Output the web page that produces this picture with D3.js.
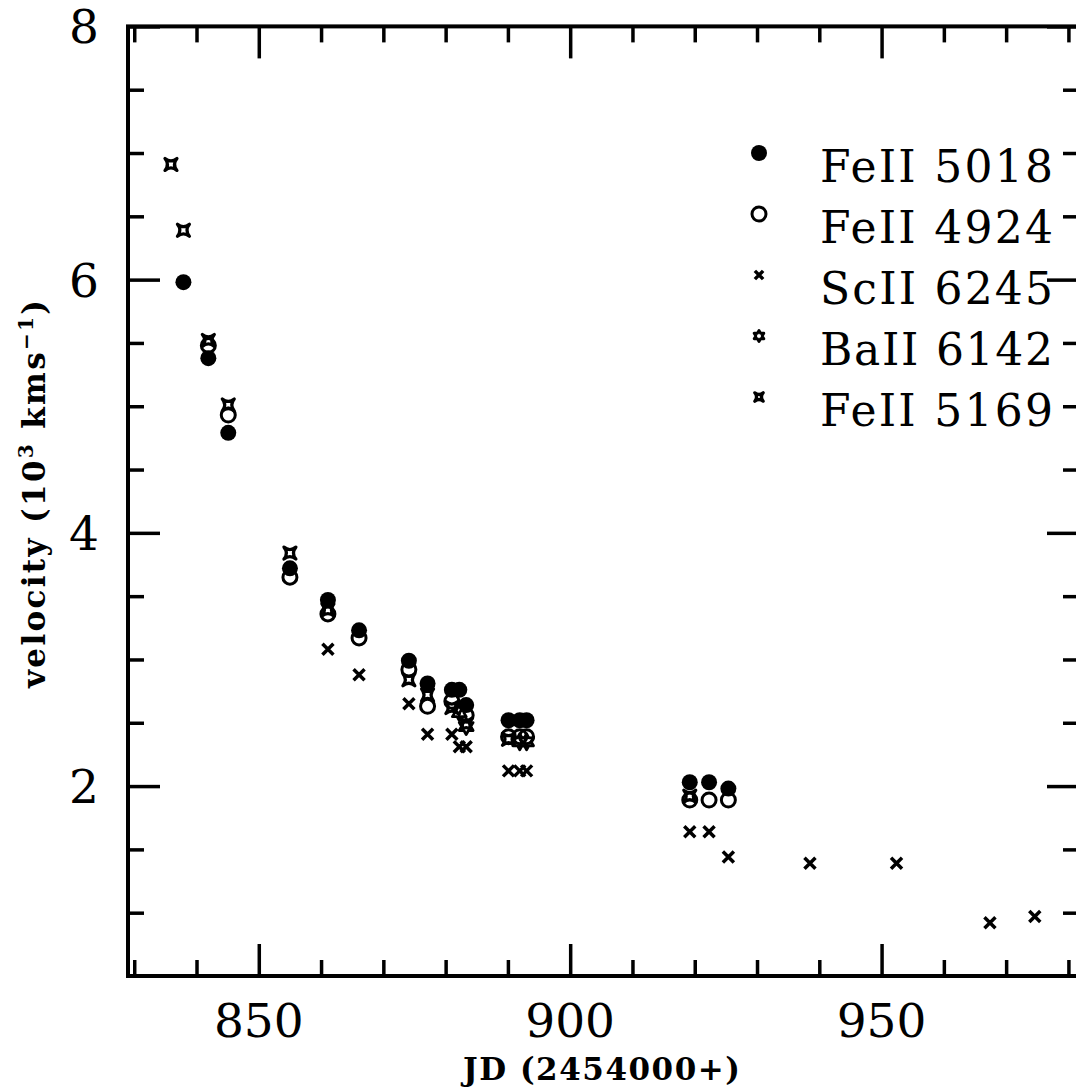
<!DOCTYPE html>
<html>
<head>
<meta charset="utf-8">
<script src="https://cdn.jsdelivr.net/npm/d3@7"></script>
<style>
  html, body { margin: 0; padding: 0; background: #fff; }
  svg { display: block; }
</style>
</head>
<body>
<svg id="chart" width="1076" height="1088"></svg>
<script>
// Line velocities (10^3 km/s) against JD - 2454000
const feII5018 = [
  [837.9, 5.98], [841.9, 5.38], [845.1, 4.79], [855.0, 3.72], [861.1, 3.47],
  [866.1, 3.23], [874.1, 2.99], [877.1, 2.81], [881.0, 2.76], [882.2, 2.76],
  [883.3, 2.64], [890.1, 2.52], [891.9, 2.52], [893.0, 2.52],
  [919.2, 2.03], [922.3, 2.03], [925.4, 1.98]
];
const feII4924 = [
  [841.9, 5.48], [845.1, 4.93], [855.0, 3.65], [861.1, 3.36], [866.1, 3.17],
  [874.1, 2.92], [877.1, 2.63], [881.0, 2.67], [883.3, 2.56],
  [890.1, 2.39], [891.9, 2.39], [893.0, 2.39],
  [919.2, 1.89], [922.3, 1.89], [925.4, 1.89]
];
const scII6245 = [
  [861.1, 3.08], [866.1, 2.88], [874.1, 2.65], [877.1, 2.41], [881.0, 2.41],
  [882.2, 2.31], [883.3, 2.31], [890.1, 2.12], [891.9, 2.12], [893.0, 2.12],
  [919.2, 1.64], [922.3, 1.64], [925.4, 1.44], [938.5, 1.39], [952.4, 1.39],
  [967.4, 0.92], [974.6, 0.97]
];
const baII6142 = [
  [882.2, 2.58], [883.3, 2.47], [891.9, 2.35], [893.0, 2.35]
];
const feII5169 = [
  [835.9, 6.91], [837.9, 6.39], [841.9, 5.52], [845.1, 5.01], [855.0, 3.84],
  [861.1, 3.39], [874.1, 2.84], [877.1, 2.72], [881.0, 2.62], [883.3, 2.49],
  [890.1, 2.37], [919.2, 1.92]
];

const legendLabels = ["FeII 5018", "FeII 4924", "ScII 6245", "BaII 6142", "FeII 5169"];
const xMajorTicks = [850, 900, 950];
const yMajorTicks = [2, 4, 6, 8];
const xDomain = [829, 981.7];
const yDomain = [0.5, 8];

const svg = d3.select("#chart");
const plotLeft = 128, plotRight = 1079, plotTop = 26.4, plotBottom = 976;

const x = d3.scaleLinear().domain(xDomain).range([plotLeft, plotRight]);
const y = d3.scaleLinear().domain(yDomain).range([plotBottom, plotTop]);

const xMinor = d3.range(830, 981, 10).filter(v => !xMajorTicks.includes(v));
const yMinor = d3.range(0.5, 8.01, 0.5).filter(v => !yMajorTicks.includes(v) && v > 0.5 && v < 8);

const TICK_W = 3.5;
function styleAxis(g) {
  g.select(".domain").remove();
  g.selectAll("line").attr("stroke", "#000").attr("stroke-width", TICK_W);
  g.selectAll("text").remove();
}

// ticks on all four sides, pointing inward
const axes = [
  [() => d3.axisBottom(x), `translate(0,${plotBottom})`, xMajorTicks, xMinor],
  [() => d3.axisTop(x), `translate(0,${plotTop})`, xMajorTicks, xMinor],
  [() => d3.axisLeft(y), `translate(${plotLeft},0)`, yMajorTicks, yMinor],
  [() => d3.axisRight(y), `translate(${plotRight},0)`, yMajorTicks, yMinor]
];
axes.forEach(([mk, tr, major, minor]) => {
  svg.append("g").attr("transform", tr)
    .call(mk().tickValues(major).tickSizeInner(-32).tickSizeOuter(0).tickFormat(""))
    .call(styleAxis);
  svg.append("g").attr("transform", tr)
    .call(mk().tickValues(minor).tickSizeInner(-16).tickSizeOuter(0).tickFormat(""))
    .call(styleAxis);
});

// frame
svg.append("rect")
  .attr("x", plotLeft).attr("y", plotTop)
  .attr("width", plotRight - plotLeft).attr("height", plotBottom - plotTop)
  .attr("fill", "none").attr("stroke", "#000").attr("stroke-width", 4);

// tick labels
const numFont = "'DejaVu Serif', serif";
svg.append("g").selectAll("text").data(xMajorTicks).join("text")
  .attr("x", d => x(d)).attr("y", 1037)
  .attr("text-anchor", "middle")
  .attr("font-family", numFont).attr("font-size", 47)
  .text(d => d);
svg.append("g").selectAll("text").data(yMajorTicks).join("text")
  .attr("x", 99).attr("y", d => y(d) + 17)
  .attr("text-anchor", "end")
  .attr("font-family", numFont).attr("font-size", 47)
  .text(d => d);

// axis titles
svg.append("text")
  .attr("x", 463).attr("y", 1080)
  .attr("font-family", numFont).attr("font-weight", "bold").attr("font-size", 31)
  .attr("textLength", 277).attr("lengthAdjust", "spacing")
  .text("JD (2454000+)");

const yt = svg.append("text")
  .attr("transform", "translate(45,688) rotate(-90)")
  .attr("x", 0).attr("y", 0)
  .attr("font-family", numFont).attr("font-weight", "bold").attr("font-size", 31)
  .attr("textLength", 388).attr("lengthAdjust", "spacing");
yt.append("tspan").text("velocity (10");
yt.append("tspan").attr("font-size", 20).attr("dy", -12).text("3");
yt.append("tspan").attr("dy", 12).text(" kms");
yt.append("tspan").attr("font-size", 20).attr("dy", -12).text("−1");
yt.append("tspan").attr("dy", 12).text(")");

// marker shapes
function star4(a) {
  const c = a * 0.18;
  return `M${-a},${-a} Q0,${-c} ${a},${-a} Q${c},0 ${a},${a} Q0,${c} ${-a},${a} Q${-c},0 ${-a},${-a} Z`;
}
function star6(ro, ri) {
  const pts = d3.range(12).map(i => {
    const ang = -Math.PI / 2 + i * Math.PI / 6;
    const r = i % 2 === 0 ? ro : ri;
    return [r * Math.cos(ang), r * Math.sin(ang)];
  });
  return "M" + pts.map(p => p.join(",")).join("L") + "Z";
}
function cross(a) {
  return `M${-a},${-a}L${a},${a}M${-a},${a}L${a},${-a}`;
}

const drawers = {
  open: (g, k) => g.append("circle").attr("r", 7 * k).attr("fill", "none")
    .attr("stroke", "#000").attr("stroke-width", 3),
  filled: (g, k) => g.append("circle").attr("r", 8 * k).attr("fill", "#000"),
  cross: (g, k) => g.append("path").attr("d", cross(5.5 * k)).attr("fill", "none")
    .attr("stroke", "#000").attr("stroke-width", 3.5),
  star6: (g, k) => g.append("path").attr("d", star6(8 * k, 4.5 * k)).attr("fill", "none")
    .attr("stroke", "#000").attr("stroke-width", 2.8).attr("stroke-linejoin", "round"),
  star4: (g, k) => g.append("path").attr("d", star4(6 * k)).attr("fill", "none")
    .attr("stroke", "#000").attr("stroke-width", 3.2).attr("stroke-linejoin", "round")
};

const series = [
  { data: feII4924, kind: "open" },
  { data: feII5018, kind: "filled" },
  { data: scII6245, kind: "cross" },
  { data: baII6142, kind: "star6" },
  { data: feII5169, kind: "star4" }
];

const plot = svg.append("g");
series.forEach(s => {
  s.data.forEach(([d, v]) => {
    const g = plot.append("g").attr("transform", `translate(${x(d)},${y(v)})`);
    drawers[s.kind](g, 1);
  });
});

// legend
const legendKinds = ["filled", "open", "cross", "star6", "star4"];
const legendScale = [1, 1, 0.75, 0.7, 0.7];
legendLabels.forEach((lab, i) => {
  const my = 153 + i * 61;
  const g = svg.append("g").attr("transform", `translate(759,${my})`);
  drawers[legendKinds[i]](g, legendScale[i]);
  svg.append("text")
    .attr("x", 820).attr("y", my + 29)
    .attr("font-family", numFont).attr("font-size", 44)
    .attr("textLength", 233).attr("lengthAdjust", "spacing")
    .text(lab);
});
</script>
</body>
</html>
